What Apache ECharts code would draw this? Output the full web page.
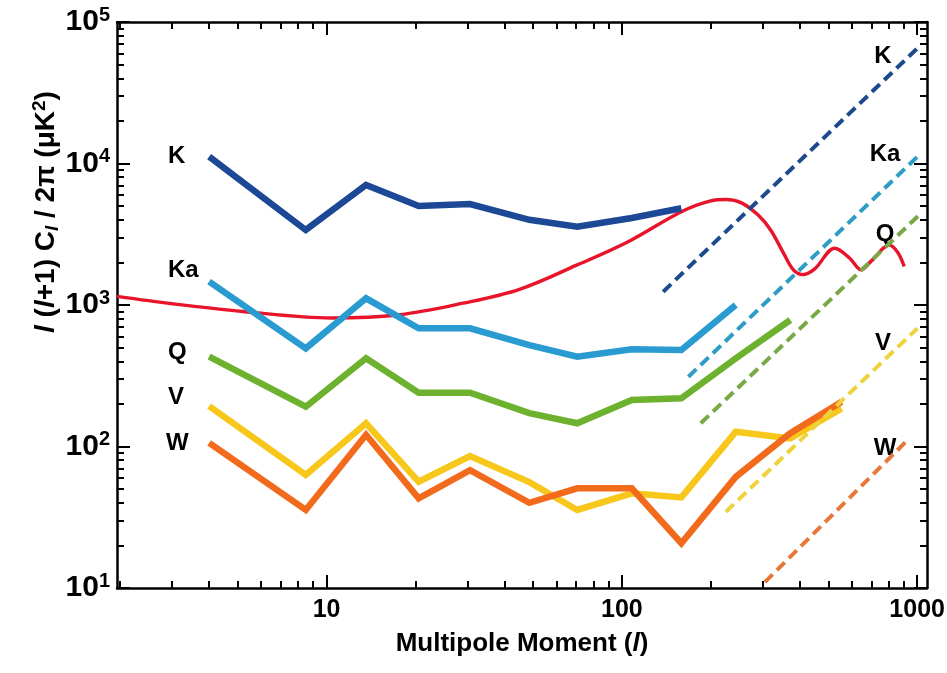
<!DOCTYPE html>
<html><head><meta charset="utf-8">
<script src="https://cdn.jsdelivr.net/npm/echarts@6/dist/echarts.min.js"></script>
<style>html,body{margin:0;padding:0;background:#fff}#c{width:947px;height:673px}</style>
</head><body><div id="c"></div>
<script>
// ---- data ----
const ell = [4, 8.5, 13.6, 20.5, 30.6, 48.6, 70.6, 108, 159, 243, 372, 555];
const bandK  = [11170, 3390, 7050, 5010, 5170, 4000, 3575, 4120, 4825];
const bandKa = [1462, 494, 1115, 684, 684, 520, 431, 486, 481, 1000];
const bandQ  = [431, 191, 420, 240, 240, 172, 146, 213, 219, 420, 783];
const bandV  = [193, 63, 146, 56.4, 85.7, 56, 35.6, 46.7, 43.7, 127, 114, 186];
const bandW  = [106, 35.6, 121, 43, 68, 40, 50.6, 50.6, 20.7, 61, 124, 207];
const cmbEll   = [1.95, 3, 5.2, 10.4, 17.4, 29, 45, 70.6, 105, 159, 200, 225, 255, 290, 319, 353, 381, 410, 450, 526, 590, 647, 700, 806, 860, 904];
const cmbPower = [1150, 1020, 900, 810, 850, 1030, 1290, 1920, 2800, 4565, 5450, 5560, 5250, 4300, 3390, 2320, 1770, 1640, 1800, 2520, 2150, 1770, 2050, 2650, 2350, 1870];
const noiseK  = [[138, 1242], [1002, 65200]];
const noiseKa = [[168, 311], [1016, 11480]];
const noiseQ  = [[185, 146], [1016, 4325]];
const noiseV  = [[225, 34.6], [1002, 684]];
const noiseW  = [[305, 11], [916, 108]];
const bandNames = ['K', 'Ka', 'Q', 'V', 'W'];
const xMajor = [10, 100, 1000];
const xMinor = [2,3,4,5,6,7,8,9,20,30,40,50,60,70,80,90,200,300,400,500,600,700,800,900];
const yMajor = [10, 100, 1000, 10000, 100000];
const yMinor = [20,30,40,50,60,70,80,90,200,300,400,500,600,700,800,900,2000,3000,4000,5000,6000,7000,8000,9000,20000,30000,40000,50000,60000,70000,80000,90000];

// ---- styling ----
const FONT = "'Liberation Sans', Arial, Helvetica, sans-serif";
const solidColors = {K:'#1c4896', Ka:'#2a9bd0', Q:'#6cb22e', V:'#f7c81b', W:'#f26b1d'};
const dashColors  = {K:'#1d4a8c', Ka:'#2f9cc5', Q:'#79a947', V:'#eed23e', W:'#e8773a'};
const bands = {K:bandK, Ka:bandKa, Q:bandQ, V:bandV, W:bandW};
const noises = {K:noiseK, Ka:noiseKa, Q:noiseQ, V:noiseV, W:noiseW};

const pair = (xs, ys) => ys.map((v, i) => [xs[i], v]);
const X0 = 1.95, X1 = 1080, Y0 = 10, Y1 = 100000;
const lineSty = {color:'#000', width:2.5};
const tickSty = {color:'#000', width:2};

function xAx(pos, ticks, len, main) {
  return {
    type:'log', logBase:10, min:X0, max:X1, position:pos,
    axisLine:{show:main, onZero:false, lineStyle:lineSty},
    axisTick:{show:true, inside:true, length:len, customValues:ticks, lineStyle:tickSty},
    axisLabel:(main && pos==='bottom') ? {show:true, customValues:xMajor, formatter:v => String(Math.round(v)),
      color:'#000', fontSize:25, fontWeight:'bold', fontFamily:FONT, margin:10} : {show:false},
    splitLine:{show:false}
  };
}
function yAx(pos, ticks, len, main) {
  return {
    type:'log', logBase:10, min:Y0, max:Y1, position:pos,
    axisLine:{show:main, onZero:false, lineStyle:lineSty},
    axisTick:{show:true, inside:true, length:len, customValues:ticks, lineStyle:tickSty},
    axisLabel:(main && pos==='left') ? {
      show:true, customValues:yMajor, margin:7,
      formatter: v => '{b|10}{s|' + Math.round(Math.log10(v)) + '}',
      rich:{
        b:{fontSize:30, fontWeight:'bold', fontFamily:FONT, color:'#000', lineHeight:34},
        s:{fontSize:20, fontWeight:'bold', fontFamily:FONT, color:'#000', lineHeight:14, verticalAlign:'top'}
      }
    } : {show:false},
    splitLine:{show:false}
  };
}

const xAxes = [xAx('bottom', xMajor, 13, true), xAx('bottom', xMinor, 7, false), xAx('top', xMajor, 13, true), xAx('top', xMinor, 7, false)];
xAxes[0].name = 'Multipole Moment ({i|l})';
xAxes[0].nameLocation = 'middle';
xAxes[0].nameGap = 43;
xAxes[0].nameTextStyle = {fontSize:26, fontWeight:'bold', fontFamily:FONT, color:'#000',
  rich:{i:{fontSize:26, fontWeight:'bold', fontStyle:'italic', fontFamily:FONT, color:'#000'}}};
const yAxes = [yAx('left', yMajor, 13, true), yAx('left', yMinor, 7, false), yAx('right', yMajor, 13, true), yAx('right', yMinor, 7, false)];

const series = [];
series.push({type:'line', name:'CMB', data:pair(cmbEll, cmbPower), showSymbol:false, smooth:0.35,
  lineStyle:{color:'#e8142a', width:3.4}, z:3});
bandNames.forEach(n => {
  series.push({type:'line', name:n, data:pair(ell, bands[n]), showSymbol:false,
    lineStyle:{color:solidColors[n], width:6.5, join:'miter'}, z:4});
});
bandNames.forEach(n => {
  series.push({type:'line', name:n + ' noise', data:noises[n], showSymbol:false,
    lineStyle:{color:dashColors[n], width:4, type:[11, 6]}, z:5});
});

const labelStyle = {fill:'#000', fontSize:24, fontWeight:'bold', fontFamily:FONT};
const leftLabels  = [['K',168,156],['Ka',168,270],['Q',168,352],['V',168,397],['W',166,443]];
const rightLabels = [['K',883,56],['Ka',885,154],['Q',885,234],['V',883,343],['W',885,448]];
const graphics = [];
leftLabels.forEach(([t,x,y]) => graphics.push({type:'text', x:x, y:y, style:Object.assign({text:t, align:'left', verticalAlign:'middle'}, labelStyle)}));
rightLabels.forEach(([t,x,y]) => graphics.push({type:'text', x:x, y:y, style:Object.assign({text:t, align:'center', verticalAlign:'middle'}, labelStyle)}));
graphics.push({type:'text', x:46, y:212, rotation:Math.PI/2,
  style:{text:'{i|l} ({i|l}+1) C{sub|l} / 2π (μK{sup|2})', align:'center', verticalAlign:'middle',
    fill:'#000', fontSize:28, fontWeight:'bold', fontFamily:FONT,
    rich:{
      i:{fontSize:28, fontWeight:'bold', fontStyle:'italic', fontFamily:FONT, fill:'#000', lineHeight:32},
      sub:{fontSize:19, fontWeight:'bold', fontStyle:'italic', fontFamily:FONT, fill:'#000', lineHeight:14, verticalAlign:'bottom'},
      sup:{fontSize:19, fontWeight:'bold', fontFamily:FONT, fill:'#000', lineHeight:14, verticalAlign:'top'}
    }}});

const chart = echarts.init(document.getElementById('c'), null, {renderer:'canvas'});
chart.setOption({
  animation:false,
  backgroundColor:'#fff',
  grid:{left:117, right:20, top:22, bottom:85, containLabel:false, outerBoundsMode:'none'},
  xAxis:xAxes,
  yAxis:yAxes,
  series:series,
  graphic:graphics
});
</script></body></html>
